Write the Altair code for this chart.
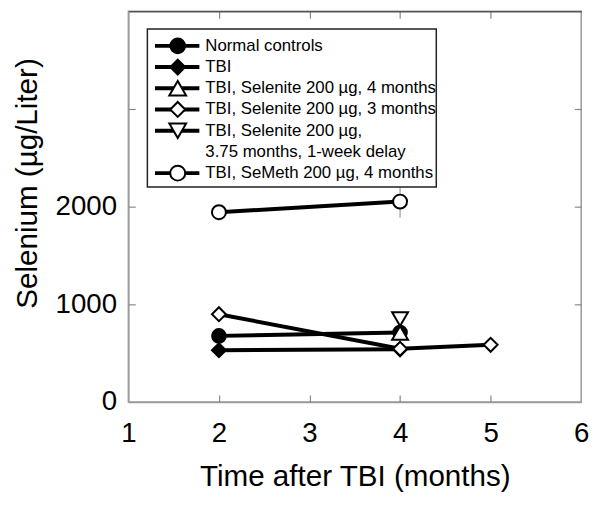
import altair as alt
import pandas as pd

# ---------------- data ----------------
series = [
    "Normal controls",
    "TBI",
    "TBI, Selenite 200 µg, 4 months",
    "TBI, Selenite 200 µg, 3 months",
    "TBI, Selenite 200 µg, 3.75 months, 1-week delay",
    "TBI, SeMeth 200 µg, 4 months",
]
months = [
    [2, 4],
    [2, 4],
    [4],
    [2, 4, 5],
    [4],
    [2, 4],
]
selenium = [
    [677, 712],
    [530, 540],
    [707],
    [899, 545, 586],
    [848],
    [1943, 2052],
]
# SEM error bar (SeMeth group at 4 months)
err_month = [4]
err_mean = [2052]
err_sem = [165]

legend_text = [
    ["Normal controls"],
    ["TBI"],
    ["TBI, Selenite 200 µg, 4 months"],
    ["TBI, Selenite 200 µg, 3 months"],
    ["TBI, Selenite 200 µg,", "3.75 months, 1-week delay"],
    ["TBI, SeMeth 200 µg, 4 months"],
]
x_tick_labels = [1, 2, 3, 4, 5, 6]
y_tick_labels = [0, 1000, 2000]

# ---------------- styles ----------------
marker_shape = ["circle", "diamond", "triangle-up", "diamond", "triangle-down", "circle"]
marker_fill = ["black", "black", "white", "white", "white", "white"]
marker_size = [190, 200, 260, 200, 260, 200]

FONT = "Liberation Sans"
W, H = 459, 396
GRAY = "#9a9a9a"

# ---------------- tables ----------------
rows = []
for s, xs_, ys_, sh, fi, sz in zip(series, months, selenium, marker_shape,
                                   marker_fill, marker_size):
    for xv, yv in zip(xs_, ys_):
        rows.append({"series": s, "month": xv, "se": yv, "shape": sh,
                     "fill": fi, "size": sz})
df = pd.DataFrame(rows)

err_df = pd.DataFrame({
    "month": err_month,
    "lo": [m - e for m, e in zip(err_mean, err_sem)],
    "hi": [m + e for m, e in zip(err_mean, err_sem)],
})

# legend layout (rows in legend units, x in axis months)
leg_entries, leg_labels = [], []
r = 0
for i, lines in enumerate(legend_text):
    leg_entries.append({"row": r, "shape": marker_shape[i], "fill": marker_fill[i],
                        "size": marker_size[i] + 30})
    for t in lines:
        leg_labels.append({"row": r, "label": t})
        r += 1
leg_entries_df = pd.DataFrame(leg_entries)
leg_labels_df = pd.DataFrame(leg_labels)

LEG = {"box_x0": 1.21, "box_x1": 4.40, "box_r0": -0.79, "box_r1": 6.65,
       "line_x0": 1.294, "line_x1": 1.784, "mark_x": 1.545, "text_x": 1.85}
leg_entries_df["x0"] = LEG["line_x0"]
leg_entries_df["x1"] = LEG["line_x1"]
leg_entries_df["xm"] = LEG["mark_x"]
leg_labels_df["xt"] = LEG["text_x"]
box_df = pd.DataFrame({"x0": [LEG["box_x0"]], "x1": [LEG["box_x1"]],
                       "r0": [LEG["box_r0"]], "r1": [LEG["box_r1"]]})

# ---------------- scales ----------------
def xsc():
    return alt.Scale(domain=[1, 6], nice=False, zero=False)

def ysc():
    return alt.Scale(domain=[0, 4000], nice=False, zero=False)

def legsc():
    return alt.Scale(domain=[-1.628, 16.79], reverse=True, nice=False, zero=False)

tick_common = dict(labels=False, title=None, grid=False, tickSize=7,
                   tickColor="#888888", tickWidth=1.2)

# ---------------- layers ----------------
err = alt.Chart(err_df).mark_rule(color=GRAY, strokeWidth=1.2).encode(
    x=alt.X("month:Q", scale=xsc(),
            axis=alt.Axis(orient="bottom", offset=-H, values=[2, 3, 4, 5],
                          domain=True, domainColor="#555555", domainWidth=1.5,
                          **tick_common)),
    y=alt.Y("lo:Q", scale=ysc(),
            axis=alt.Axis(orient="left", offset=-W, values=[1000, 2000, 3000],
                          domain=False, **tick_common)),
    y2="hi:Q",
)

main_x = alt.Axis(
    orient="bottom", values=x_tick_labels, format="d", ticks=False, tickSize=0,
    labelFont=FONT, labelFontSize=28, labelColor="black", labelPadding=18,
    labelFlush=False,
    domain=True, domainColor=GRAY, domainWidth=1.5, grid=False,
    title="Time after TBI (months)", titleFont=FONT, titleFontSize=30,
    titleFontWeight="normal", titleColor="black", titleY=85,
    titleBaseline="alphabetic",
)
main_y = alt.Axis(
    orient="left", values=y_tick_labels, format="d", ticks=False, tickSize=0,
    labelFont=FONT, labelFontSize=28, labelColor="black", labelPadding=12,
    labelFlush=False,
    domain=True, domainColor=GRAY, domainWidth=1.5, grid=False,
    title="Selenium (µg/Liter)", titleFont=FONT, titleFontSize=30,
    titleFontWeight="normal", titleColor="black", titleAngle=270,
    titleX=-93, titleY=174, titleBaseline="alphabetic", titleAlign="center",
)

lines = alt.Chart(df).mark_line(color="black", strokeWidth=4).encode(
    x=alt.X("month:Q", scale=xsc(), axis=main_x),
    y=alt.Y("se:Q", scale=ysc(), axis=main_y),
    detail="series:N",
    order="month:Q",
)

points = alt.Chart(df).mark_point(
    filled=True, stroke="black", strokeWidth=2, opacity=1,
    fillOpacity=1, strokeOpacity=1,
).encode(
    x=alt.X("month:Q", scale=xsc(),
            axis=alt.Axis(orient="top", offset=-H, values=[2, 3, 4, 5],
                          domain=False, **tick_common)),
    y=alt.Y("se:Q", scale=ysc(),
            axis=alt.Axis(orient="right", offset=-W, values=[1000, 2000, 3000],
                          domain=False, **tick_common)),
    shape=alt.Shape("shape:N", scale=None),
    fill=alt.Fill("fill:N", scale=None),
    size=alt.Size("size:Q", scale=None),
)

box = alt.Chart(box_df).mark_rect(fill="white", stroke="#222222", strokeWidth=1.5).encode(
    x=alt.X("x0:Q", scale=xsc(), axis=None),
    x2="x1:Q",
    y=alt.Y("r0:Q", scale=legsc(), axis=None),
    y2="r1:Q",
)

leg_rules = alt.Chart(leg_entries_df).mark_rule(color="black", strokeWidth=4).encode(
    x=alt.X("x0:Q", scale=xsc(), axis=None),
    x2="x1:Q",
    y=alt.Y("row:Q", scale=legsc(), axis=None),
)

leg_pts = alt.Chart(leg_entries_df).mark_point(
    filled=True, stroke="black", strokeWidth=2, opacity=1,
    fillOpacity=1, strokeOpacity=1,
).encode(
    x=alt.X("xm:Q", scale=xsc(), axis=None),
    y=alt.Y("row:Q", scale=legsc(), axis=None),
    shape=alt.Shape("shape:N", scale=None),
    fill=alt.Fill("fill:N", scale=None),
    size=alt.Size("size:Q", scale=None),
)

leg_txt = alt.Chart(leg_labels_df).mark_text(
    align="left", baseline="middle", font=FONT, fontSize=17, color="black",
).encode(
    x=alt.X("xt:Q", scale=xsc(), axis=None),
    y=alt.Y("row:Q", scale=legsc(), axis=None),
    text="label:N",
)

chart = alt.layer(err, lines, points, box, leg_rules, leg_pts, leg_txt).resolve_scale(
    x="independent", y="independent"
).properties(
    width=W, height=H,
    autosize=alt.AutoSizeParams(type="none"),
    padding={"left": 122, "top": 0, "right": 15, "bottom": 100},
).configure_view(stroke=GRAY, strokeWidth=1.5)

chart.save("out.html", embed_options={"renderer": "svg", "actions": False})
